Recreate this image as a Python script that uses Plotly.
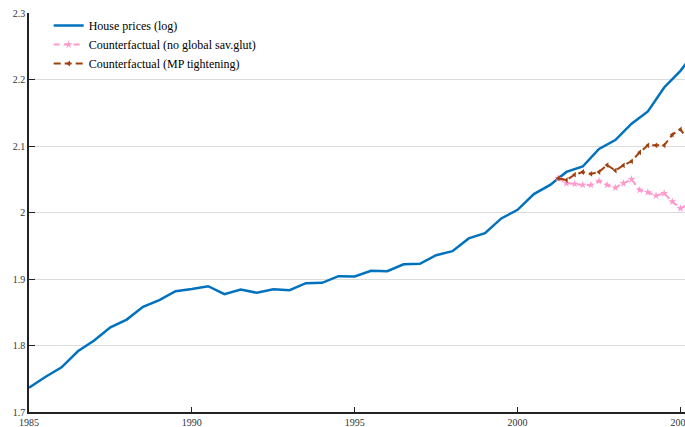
import plotly.graph_objects as go

# House prices (log), semi-annual observations
house_years = [1985.0, 1985.5, 1986.0, 1986.5, 1987.0, 1987.5, 1988.0, 1988.5, 1989.0, 1989.5,
               1990.0, 1990.5, 1991.0, 1991.5, 1992.0, 1992.5, 1993.0, 1993.5, 1994.0, 1994.5,
               1995.0, 1995.5, 1996.0, 1996.5, 1997.0, 1997.5, 1998.0, 1998.5, 1999.0, 1999.5,
               2000.0, 2000.5, 2001.0, 2001.5, 2002.0, 2002.5, 2003.0, 2003.5, 2004.0, 2004.5,
               2005.0, 2005.5]
house_prices = [1.7366, 1.7527, 1.7672, 1.7913, 1.8074, 1.8274, 1.8390, 1.8581, 1.8681, 1.8816,
                1.8850, 1.8892, 1.8771, 1.8842, 1.8792, 1.8847, 1.8832, 1.8937, 1.8943, 1.9042,
                1.9038, 1.9123, 1.9117, 1.9222, 1.9229, 1.9358, 1.9419, 1.9610, 1.9690, 1.9911,
                2.0040, 2.0277, 2.0415, 2.0610, 2.0692, 2.0955, 2.1090, 2.1335, 2.1520, 2.1880,
                2.2130, 2.2450]

# Counterfactual paths, quarterly from 2001Q2
cf_years = [2001.25, 2001.5, 2001.75, 2002.0, 2002.25, 2002.5, 2002.75, 2003.0, 2003.25,
            2003.5, 2003.75, 2004.0, 2004.25, 2004.5, 2004.75, 2005.0, 2005.25]
cf_no_glut = [2.0514, 2.0439, 2.0429, 2.0414, 2.0414, 2.0474, 2.0414, 2.0373, 2.0439,
              2.0499, 2.0338, 2.0303, 2.0253, 2.0288, 2.0163, 2.0062, 2.0120]
cf_mp_tight = [2.0514, 2.0488, 2.0568, 2.0609, 2.0580, 2.0609, 2.0714, 2.0630, 2.0709,
               2.0770, 2.0905, 2.1010, 2.1010, 2.1010, 2.1170, 2.1250, 2.1080]

y_ticks = [1.7, 1.8, 1.9, 2.0, 2.1, 2.2, 2.3]
y_tick_labels = ["1.7", "1.8", "1.9", "2", "2.1", "2.2", "2.3"]
x_ticks = [1985, 1990, 1995, 2000, 2005]
x_tick_labels = ["1985", "1990", "1995", "2000", "2005"]

fig = go.Figure()

fig.add_trace(go.Scatter(
    x=house_years, y=house_prices, mode="lines",
    name="House prices (log)",
    line=dict(color="#0072BD", width=2.5),
))
fig.add_trace(go.Scatter(
    x=cf_years, y=cf_no_glut, mode="lines+markers",
    name="Counterfactual (no global sav.glut)",
    line=dict(color="#FF99CC", width=2, dash="6px,4px"),
    marker=dict(symbol="star", size=6, color="#FF99CC"),
))
fig.add_trace(go.Scatter(
    x=cf_years, y=cf_mp_tight, mode="lines+markers",
    name="Counterfactual (MP tightening)",
    line=dict(color="#A0400F", width=2, dash="7px,4px"),
    marker=dict(symbol="triangle-left", size=5, color="#A0400F"),
))

font_family = "Liberation Serif"

fig.update_layout(
    width=685, height=427,
    margin=dict(l=29, r=0, t=13, b=15, autoexpand=False),
    paper_bgcolor="white", plot_bgcolor="white",
    font=dict(family=font_family, size=10, color="#222222"),
    showlegend=True,
    legend=dict(
        x=0.03, y=1.005, xanchor="left", yanchor="top",
        bgcolor="rgba(0,0,0,0)", borderwidth=0,
        font=dict(family=font_family, size=12, color="#000000"),
        tracegroupgap=0, itemwidth=30,
    ),
)
fig.update_xaxes(
    range=[1985, 2005.14], automargin=False,
    tickvals=x_ticks, ticktext=x_tick_labels,
    showgrid=False, zeroline=False,
    showline=True, linecolor="#222222", linewidth=1.5,
    ticks="inside", ticklen=5, tickwidth=1.2, tickcolor="#222222",
    ticklabeloverflow="allow",
    tickfont=dict(family=font_family, size=10, color="#333333"),
)
fig.update_yaxes(
    range=[1.7, 2.3], automargin=False,
    tickvals=y_ticks, ticktext=y_tick_labels,
    showgrid=True, gridcolor="#DCDCDC", gridwidth=1,
    zeroline=False,
    showline=True, linecolor="#222222", linewidth=1.5,
    ticks="inside", ticklen=6, tickwidth=1.2, tickcolor="#222222",
    tickfont=dict(family=font_family, size=10, color="#333333"),
)

fig.write_html("out.html")
